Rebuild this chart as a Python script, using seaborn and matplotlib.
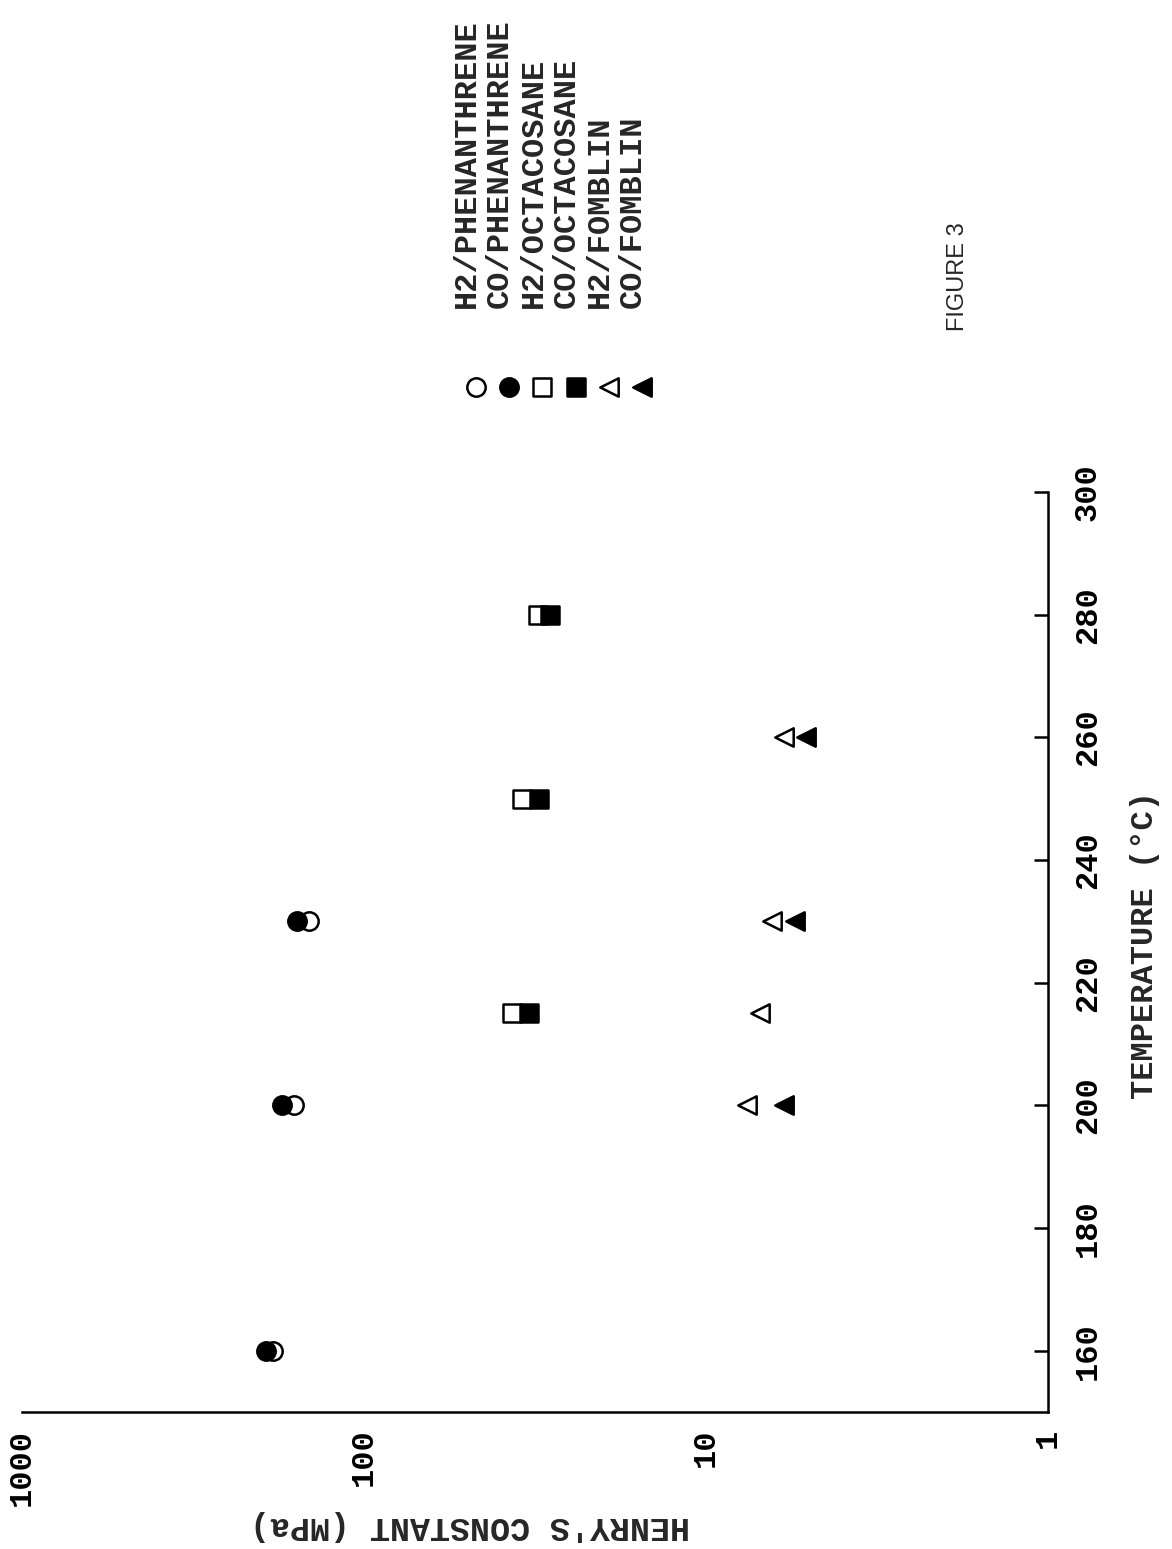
import numpy as np
import pandas as pd
import matplotlib
matplotlib.use('Agg')
import matplotlib.pyplot as plt
import seaborn as sns
from matplotlib.ticker import NullLocator

# Henry's constants (MPa), by temperature (deg C)
temp_phen = [160, 200, 230]
h2_phen = [185, 160, 145]
co_phen = [194, 174, 157]

temp_octa = [215, 250, 280]
h2_octa = [37.0, 34.4, 30.9]
co_octa = [33.0, 30.7, 28.5]

temp_fomb_h2 = [200, 215, 230, 260]
h2_fomb = [7.6, 6.95, 6.4, 5.9]
temp_fomb_co = [200, 230, 260]
co_fomb = [5.9, 5.5, 5.1]

series_names = ['H2/PHENANTHRENE', 'CO/PHENANTHRENE', 'H2/OCTACOSANE',
                'CO/OCTACOSANE', 'H2/FOMBLIN', 'CO/FOMBLIN']
henry_ticks = [1000, 100, 10, 1]
temp_ticks = [160, 180, 200, 220, 240, 260, 280, 300]


def build_frame():
    parts = [
        (series_names[0], temp_phen, h2_phen),
        (series_names[1], temp_phen, co_phen),
        (series_names[2], temp_octa, h2_octa),
        (series_names[3], temp_octa, co_octa),
        (series_names[4], temp_fomb_h2, h2_fomb),
        (series_names[5], temp_fomb_co, co_fomb),
    ]
    rows = []
    for name, t, h in parts:
        for ti, hi in zip(t, h):
            rows.append({'series': name, 'temp': ti, 'henry': hi})
    return pd.DataFrame(rows)


df = build_frame()

sns.set_style('white')
plt.rcParams['font.family'] = ['Liberation Mono', 'DejaVu Sans']
plt.rcParams['font.weight'] = 'bold'

# marker, face colour for each series (open ones first so filled sit on top)
styles = {
    'H2/PHENANTHRENE': ('o', 'white'),
    'CO/PHENANTHRENE': ('o', 'black'),
    'H2/OCTACOSANE': ('s', 'white'),
    'CO/OCTACOSANE': ('s', 'black'),
    'H2/FOMBLIN': ('<', 'white'),
    'CO/FOMBLIN': ('<', 'black'),
}

W, H = 1172, 1549
fig = plt.figure(figsize=(W / 100, H / 100), dpi=100)
ax = fig.add_axes([22 / W, 1 - 1412 / H, (1048 - 22) / W, (1412 - 492) / H])

draw_order = ['H2/PHENANTHRENE', 'H2/OCTACOSANE', 'H2/FOMBLIN',
              'CO/PHENANTHRENE', 'CO/OCTACOSANE', 'CO/FOMBLIN']
for name in draw_order:
    m, face = styles[name]
    sub = df[df['series'] == name]
    sns.scatterplot(data=sub, x='henry', y='temp', marker=m, s=175,
                    color=face, edgecolor='black', linewidth=1.8,
                    legend=False, ax=ax, zorder=3)

# the page is rotated: Henry's constant runs right-to-left, temperature upward
ax.set_xscale('log')
ax.set_xlim(1000, 1)
ax.set_ylim(150, 300)
ax.set_xticks(henry_ticks)
ax.set_xticklabels([str(v) for v in henry_ticks], rotation=90)
ax.xaxis.set_minor_locator(NullLocator())
ax.yaxis.tick_right()
ax.set_yticks(temp_ticks)
ax.set_yticklabels([str(v) for v in temp_ticks], rotation=90, va='center')
ax.set_xlabel('')
ax.set_ylabel('')

ax.tick_params(axis='x', direction='inout', length=16, width=1.8, pad=4,
               labelsize=23, colors='black')
ax.tick_params(axis='y', direction='in', length=10, width=1.8, pad=18,
               labelsize=23, colors='black')
ax.spines['left'].set_visible(False)
ax.spines['top'].set_visible(False)
for side in ['right', 'bottom']:
    ax.spines[side].set_linewidth(1.8)
    ax.spines[side].set_color('black')

fig.text(470 / W, 1 - 1525 / H, "HENRY'S CONSTANT (MPa)", rotation=180,
         ha='center', va='center', fontsize=24, fontweight='bold')
fig.text(1145 / W, 1 - 945 / H, 'TEMPERATURE (\u00b0C)', rotation=90,
         ha='center', va='center', fontsize=23, fontweight='bold')
fig.text(958 / W, 1 - 277 / H, 'FIGURE 3', rotation=90, ha='center',
         va='center', fontsize=17, family='Liberation Sans', fontweight='normal')

# rotated legend: a row of symbols with the labels standing above them
lax = fig.add_axes([0, 0, 1, 1])
lax.set_xlim(0, W)
lax.set_ylim(H, 0)
lax.axis('off')
for i, name in enumerate(series_names):
    m, face = styles[name]
    xc = 476 + i * 33.2
    lax.scatter([xc], [387], marker=m, s=175, color=face,
                edgecolor='black', linewidth=1.8)
    fig.text((xc - 9) / W, 1 - 308 / H, name, rotation=90, ha='center',
             va='bottom', fontsize=23, fontweight='bold')

fig.savefig('out.png', dpi=100)
